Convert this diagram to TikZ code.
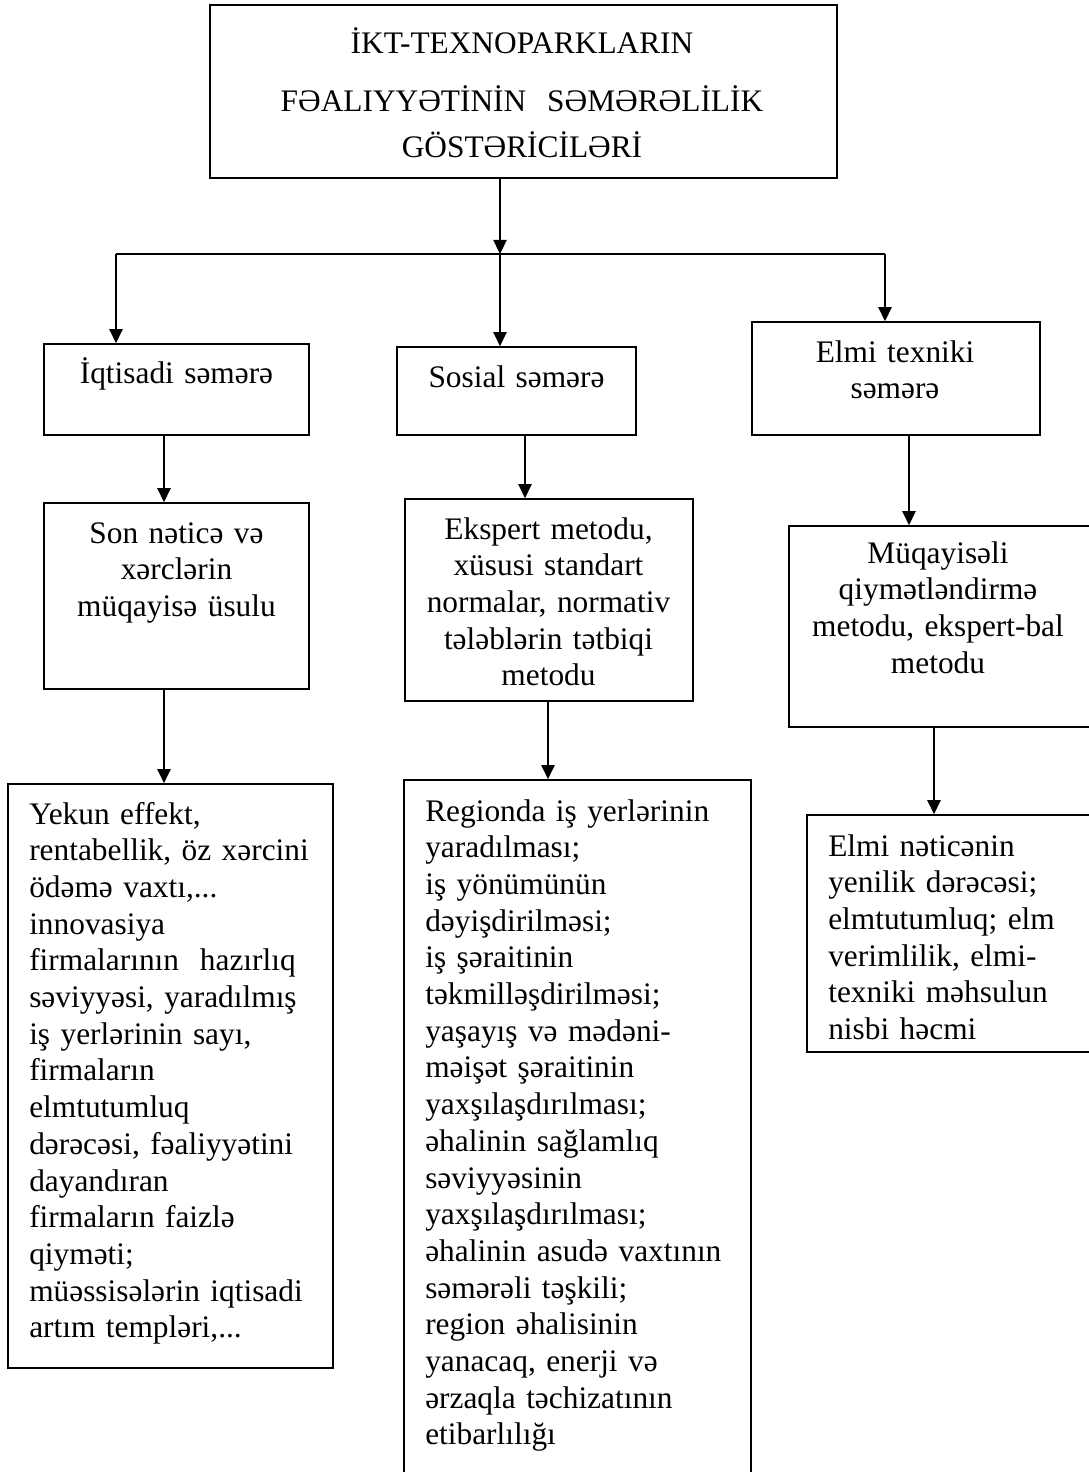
\documentclass[tikz,border=0pt]{standalone}
\usepackage{fontspec}
\setmainfont{Liberation Serif}
\usetikzlibrary{arrows.meta}

\begin{document}
\begin{tikzpicture}[x=0.025cm, y=-0.025cm,
    blok/.style={draw, line width=1.1pt, inner sep=0pt},
    yazi/.style={inner sep=0pt, font=\fontsize{22.3pt}{26.1pt}\selectfont},
    orta/.style={yazi, anchor=base, align=center, text width=7.4cm},
    sol/.style={yazi, anchor=base west, align=left, text width=8cm},
    ox/.style={-{Triangle[length=0.35cm, width=0.33cm]}, line width=1.1pt}]
    \useasboundingbox (0,0) rectangle (1088,1472);

    \node[blok, minimum width=15.675cm, minimum height=4.325cm] (top) at (523.5,91.5) {};
    \node[blok, minimum width=6.625cm, minimum height=2.275cm] (b1) at (176.5,389.5) {};
    \node[blok, minimum width=5.975cm, minimum height=2.2cm] (b2) at (516.5,391) {};
    \node[blok, minimum width=7.2cm, minimum height=2.825cm] (b3) at (896,378.5) {};
    \node[blok, minimum width=6.625cm, minimum height=4.65cm] (b4) at (176.5,596) {};
    \node[blok, minimum width=7.2cm, minimum height=5.05cm] (b5) at (549,600) {};
    \node[blok, minimum width=7.575cm, minimum height=5.025cm] (b6) at (940.5,626.5) {};
    \node[blok, minimum width=8.125cm, minimum height=14.6cm] (b7) at (170.5,1076) {};
    \node[blok, minimum width=8.675cm, minimum height=17.75cm] (b8) at (577.5,1135) {};
    \node[blok, minimum width=7.2cm, minimum height=5.925cm] (b9) at (951,933.5) {};

    \node[orta, text width=15cm] (t0) at (522,54) {İKT-TEXNOPARKLARIN\\[0.51cm]
        FƏALIYYƏTİNİN\ \ SƏMƏRƏLİLİK\\[0.23cm] GÖSTƏRİCİLƏRİ};
    \node[orta] (t1) at (176.5,383) {İqtisadi səmərə};
    \node[orta] (t2) at (516.5,387) {Sosial səmərə};
    \node[orta] (t3) at (895,362) {Elmi texniki\\səmərə};
    \node[orta] (t4) at (176.5,543) {Son nəticə və\\xərclərin\\müqayisə üsulu};
    \node[orta] (t5) at (548.5,539) {Ekspert metodu,\\xüsusi standart\\normalar, normativ\\tələblərin tətbiqi\\metodu};
    \node[orta] (t6) at (938,563) {Müqayisəli\\qiymətləndirmə\\metodu, ekspert-bal\\metodu};
    \node[sol] (t7) at (29,824) {Yekun effekt,\\rentabellik, öz xərcini\\ödəmə vaxtı,...\\innovasiya\\firmalarının\ \ hazırlıq\\səviyyəsi, yaradılmış\\iş yerlərinin sayı,\\firmaların\\elmtutumluq\\dərəcəsi, fəaliyyətini\\dayandıran\\firmaların faizlə\\qiyməti;\\müəssisələrin iqtisadi\\artım templəri,...};
    \node[sol] (t8) at (425,821) {Regionda iş yerlərinin\\yaradılması;\\iş yönümünün\\dəyişdirilməsi;\\iş şəraitinin\\təkmilləşdirilməsi;\\yaşayış və mədəni-\\məişət şəraitinin\\yaxşılaşdırılması;\\əhalinin sağlamlıq\\səviyyəsinin\\yaxşılaşdırılması;\\əhalinin asudə vaxtının\\səmərəli təşkili;\\region əhalisinin\\yanacaq, enerji və\\ərzaqla təchizatının\\etibarlılığı};
    \node[sol] (t9) at (828,856) {Elmi nəticənin\\yenilik dərəcəsi;\\elmtutumluq; elm\\verimlilik, elmi-\\texniki məhsulun\\nisbi həcmi};

    \coordinate (hub) at (500,254);
    \coordinate (lft) at (116,254);
    \coordinate (rgt) at (885,254);
    \draw[ox] (hub |- top.south) -- (hub);
    \draw[line width=1.1pt] (lft) -- (rgt);
    \draw[ox] (lft) -- (lft |- b1.north);
    \draw[ox] (hub) -- (hub |- b2.north);
    \draw[ox] (rgt) -- (rgt |- b3.north);
    \foreach \x/\a/\b in {164/b1/b4, 525/b2/b5, 909/b3/b6, 164/b4/b7, 548/b5/b8, 934/b6/b9}
        \draw[ox] (\x,0 |- \a.south) -- (\x,0 |- \b.north);
\end{tikzpicture}
\end{document}
